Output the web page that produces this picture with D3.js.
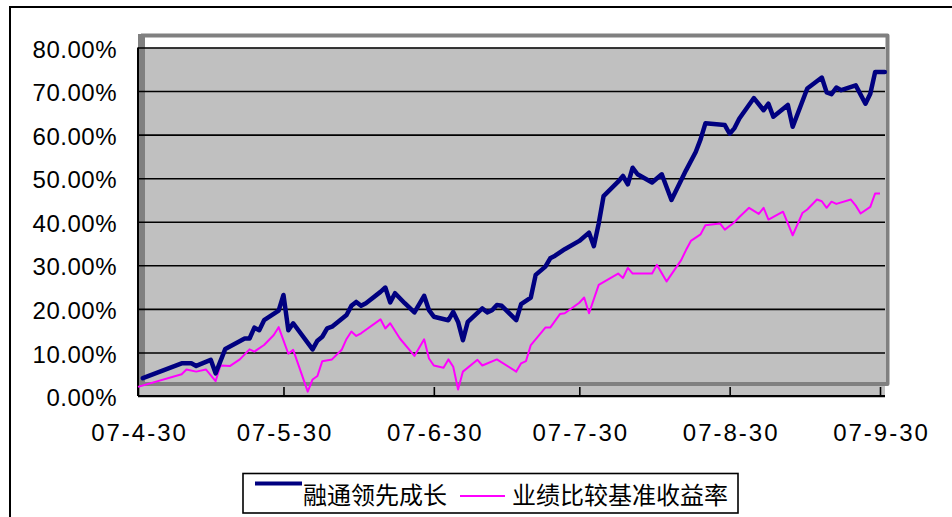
<!DOCTYPE html>
<html>
  <head>
    <meta charset="utf-8">
    <title>融通领先成长 vs 业绩比较基准</title>
    <script src="https://d3js.org/d3.v7.min.js"></script>
    <style>
      body { margin: 0; background: #fff; }
      svg text { fill: #000; }
    </style>
  </head>
  <body>
    <div id="chart"></div>

    <script type="text/javascript">
      // series values (%)
      var fundDates = ["05-01","05-09","05-11","05-12","05-15","05-16","05-18","05-22","05-23","05-24",
        "05-25","05-26","05-29","05-30","05-31","06-01","06-05","06-06","06-07","06-08",
        "06-09","06-12","06-13","06-14","06-15","06-16","06-19","06-20","06-21","06-22",
        "06-24","06-26","06-28","06-29","06-30","07-03","07-04","07-05","07-06","07-07",
        "07-10","07-11","07-12","07-13","07-14","07-17","07-18","07-20","07-21","07-23",
        "07-24","07-25","07-27","07-30","08-01","08-02","08-03","08-04","08-07","08-08",
        "08-09","08-10","08-11","08-14","08-16","08-18","08-21","08-23","08-24","08-25",
        "08-29","08-30","08-31","09-01","09-04","09-06","09-07","09-08","09-11","09-12",
        "09-15","09-18","09-19","09-20","09-21","09-22","09-25","09-27","09-28","09-29","10-01"];
      var fundValues = [4.1,7.5,7.5,6.9,8.3,5.2,10.8,13.2,13.2,15.7,
        15.1,17.4,19.6,23.2,15.1,16.7,10.7,12.7,13.6,15.5,
        15.9,18.6,20.7,21.6,20.7,21.3,23.9,24.9,21.5,23.6,
        21.3,19.2,23.0,19.7,18.2,17.4,19.3,17.0,12.8,17.0,
        20.1,19.2,19.7,20.9,20.7,17.4,21.1,22.6,27.8,29.7,
        31.6,32.2,33.7,35.6,37.5,34.4,39.6,45.9,49.2,50.5,
        48.6,52.4,50.9,49.0,50.9,45.0,51.8,56.0,58.9,62.6,
        62.2,60.2,61.5,63.7,68.4,65.6,67.1,64.1,66.8,61.8,
        70.6,73.1,69.7,69.3,70.8,70.2,71.3,67.1,69.4,74.4,74.4];

      var benchDates = ["04-30","05-09","05-10","05-12","05-14","05-16","05-17","05-19","05-21","05-23",
        "05-24","05-26","05-28","05-29","05-31","06-01","06-04","06-05","06-06","06-07",
        "06-09","06-11","06-12","06-13","06-14","06-15","06-19","06-20","06-21","06-23",
        "06-26","06-28","06-29","06-30","07-02","07-03","07-04","07-05","07-06","07-09",
        "07-10","07-13","07-17","07-18","07-19","07-20","07-23","07-24","07-26","07-27",
        "07-30","07-31","08-01","08-03","08-07","08-08","08-09","08-10","08-14","08-15",
        "08-17","08-20","08-21","08-22","08-24","08-25","08-28","08-29","08-31","09-01",
        "09-03","09-05","09-06","09-07","09-10","09-12","09-14","09-15","09-17","09-18",
        "09-19","09-20","09-21","09-24","09-25","09-26","09-28","09-29","09-30"];
      var benchValues = [2.1,5.0,6.1,5.6,6.1,3.4,7.0,6.9,8.4,10.7,
        10.2,11.7,14.0,15.8,9.7,10.6,1.0,3.8,4.6,8.0,
        8.4,10.6,13.1,14.8,13.8,14.4,17.6,15.5,16.7,13.2,
        9.2,13.0,8.6,7.0,6.5,8.4,6.7,1.5,5.6,8.3,
        7.0,8.4,5.6,7.5,8.0,11.7,15.7,15.7,18.8,19.0,
        21.4,22.6,19.0,25.5,28.1,27.1,29.4,28.1,28.1,30.1,
        26.3,31.2,33.5,35.6,37.1,39.2,39.6,38.2,39.9,41.1,
        43.2,41.8,43.2,40.5,42.3,36.9,42.0,42.8,45.1,44.7,
        43.2,44.6,44.1,45.1,43.7,41.9,43.4,46.5,46.5];

      var seriesNames = ["融通领先成长", "业绩比较基准收益率"];
      var yTickValues = [0, 10, 20, 30, 40, 50, 60, 70, 80];
      var xTickDates = ["04-30", "05-30", "06-30", "07-30", "08-30", "09-30"];

      var width = 952,
          height = 517;

      // plot box (note: "top" is taken by window.top, so use other names)
      var plotLeft = 138, plotRight = 880, gridRight = 885,
          plotTop = 47.5, plotBottom = 396;

      var parse = d3.utcParse("%Y-%m-%d");
      function toDate(s) { return parse("2007-" + s); }

      var x = d3.scaleUtc()
          .domain([toDate("04-30"), toDate("09-30")])
          .range([plotLeft, plotRight]);

      var y = d3.scaleLinear()
          .domain([0, 80])
          .range([plotBottom, plotTop]);

      var svg = d3.select('#chart').append('svg')
          .attr('width', width)
          .attr('height', height);

      // outer chart border
      svg.append('rect')
          .attr('x', 10).attr('y', 7)
          .attr('width', 1000).attr('height', 600)
          .attr('fill', '#fff')
          .attr('stroke', '#000')
          .attr('stroke-width', 2);

      // back wall
      svg.append('rect')
          .attr('x', 141).attr('y', plotTop)
          .attr('width', gridRight - 141).attr('height', 384 - plotTop)
          .attr('fill', '#c0c0c0');

      var wallEdge = d3.path();
      wallEdge.moveTo(141, 35.5); wallEdge.lineTo(887.5, 35.5);
      wallEdge.lineTo(887.5, 384); wallEdge.lineTo(141, 384);
      svg.append('path')
          .attr('d', wallEdge.toString())
          .attr('fill', 'none')
          .attr('stroke', '#808080')
          .attr('stroke-width', 4)
          .attr('stroke-linejoin', 'round');

      // side wall
      svg.append('rect')
          .attr('x', plotLeft).attr('y', 34)
          .attr('width', 7).attr('height', 352)
          .attr('fill', '#808080');

      // floor
      svg.append('rect')
          .attr('x', plotLeft).attr('y', 386)
          .attr('width', gridRight - plotLeft).attr('height', plotBottom - 386)
          .attr('fill', '#c0c0c0');

      // y axis + gridlines
      var yAxis = d3.axisLeft(y)
          .tickValues(yTickValues)
          .tickSize(-(gridRight - plotLeft))
          .tickPadding(21)
          .tickFormat(function(d) { return d3.format(".2%")(d / 100); });

      var gy = svg.append('g')
          .attr('transform', 'translate(' + plotLeft + ',0)')
          .call(yAxis);
      gy.select('.domain').remove();
      gy.selectAll('line').attr('stroke', '#000').attr('stroke-width', 1.6);
      gy.selectAll('text')
          .attr('dy', '0.4em')
          .style('font-family', '"Liberation Sans", Arial, sans-serif')
          .style('font-size', '24px')
          .style('letter-spacing', '0.5px');

      // x axis
      var xAxis = d3.axisBottom(x)
          .tickValues(xTickDates.map(toDate))
          .tickSize(-(plotBottom - 387))
          .tickSizeOuter(0)
          .tickPadding(28)
          .tickFormat(d3.utcFormat("%y-%-m-%d"));

      var gx = svg.append('g')
          .attr('transform', 'translate(0,' + plotBottom + ')')
          .call(xAxis);
      gx.select('.domain').remove();
      gx.selectAll('line').attr('stroke', '#000').attr('stroke-width', 1.6);
      gx.selectAll('text')
          .attr('dx', '1px')
          .style('font-family', '"Liberation Sans", Arial, sans-serif')
          .style('font-size', '24px')
          .style('letter-spacing', '2px');

      // axis lines
      svg.append('line')
          .attr('x1', plotLeft).attr('x2', plotLeft)
          .attr('y1', plotTop).attr('y2', plotBottom)
          .attr('stroke', '#000').attr('stroke-width', 2);
      svg.append('line')
          .attr('x1', plotLeft).attr('x2', gridRight)
          .attr('y1', plotBottom).attr('y2', plotBottom)
          .attr('stroke', '#000').attr('stroke-width', 2);

      // series
      var line = d3.line()
          .x(function(d) { return x(d[0]); })
          .y(function(d) { return y(d[1]); });

      var bench = benchDates.map(function(s, i) { return [toDate(s), benchValues[i]]; });
      var fund = fundDates.map(function(s, i) { return [toDate(s), fundValues[i]]; });

      svg.append('path')
          .datum(bench)
          .attr('d', line)
          .attr('fill', 'none')
          .attr('stroke', '#ff00ff')
          .attr('stroke-width', 2)
          .attr('stroke-linejoin', 'round');

      svg.append('path')
          .datum(fund)
          .attr('d', line)
          .attr('fill', 'none')
          .attr('stroke', '#000080')
          .attr('stroke-width', 4.5)
          .attr('stroke-linejoin', 'round')
          .attr('stroke-linecap', 'round');

      // legend
      var legend = svg.append('g');
      legend.append('rect')
          .attr('x', 243).attr('y', 473.5)
          .attr('width', 495).attr('height', 39.5)
          .attr('fill', '#fff')
          .attr('stroke', '#000')
          .attr('stroke-width', 1.6);

      legend.append('line')
          .attr('x1', 255).attr('x2', 302)
          .attr('y1', 483.5).attr('y2', 483.5)
          .attr('stroke', '#000080').attr('stroke-width', 4);
      legend.append('text')
          .attr('x', 303).attr('y', 504)
          .style('font-family', '"Noto Sans CJK SC", sans-serif')
          .style('font-size', '24px')
          .text(seriesNames[0]);

      legend.append('line')
          .attr('x1', 460).attr('x2', 505)
          .attr('y1', 496).attr('y2', 496)
          .attr('stroke', '#ff00ff').attr('stroke-width', 2);
      legend.append('text')
          .attr('x', 512).attr('y', 504)
          .style('font-family', '"Noto Sans CJK SC", sans-serif')
          .style('font-size', '24px')
          .text(seriesNames[1]);
    </script>
  </body>
</html>
